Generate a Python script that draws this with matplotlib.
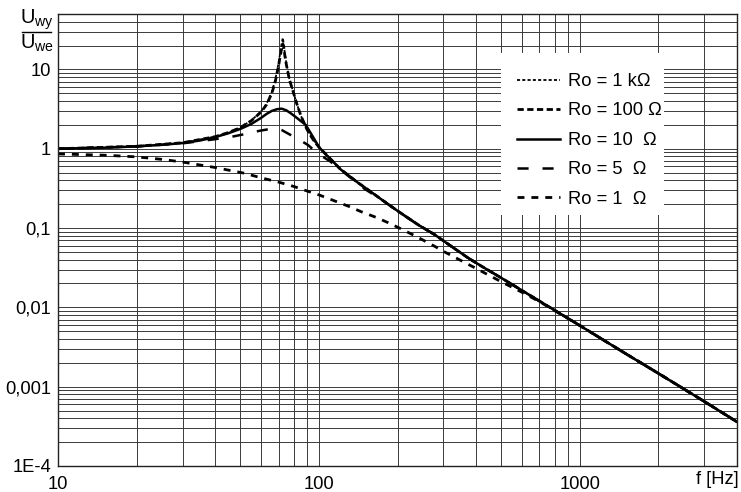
import matplotlib
matplotlib.use("Agg")
import matplotlib.pyplot as plt
from matplotlib.lines import Line2D
from matplotlib.patches import Rectangle
from matplotlib.ticker import FixedLocator, FixedFormatter, LogLocator, NullFormatter

plt.rcParams['font.family'] = ['Liberation Sans', 'DejaVu Sans']
plt.rcParams['mathtext.fontset'] = 'custom'
plt.rcParams['mathtext.rm'] = 'Liberation Sans'
plt.rcParams['mathtext.it'] = 'Liberation Sans'
plt.rcParams['lines.scale_dashes'] = False

# ---- data ----
f_1k = [10, 20, 30, 40, 45, 50, 55, 60, 63, 66, 68, 70, 71, 72, 72.7, 73.3, 74, 75, 77, 79.3, 82, 85.3, 90, 95, 100,
        110, 121, 130, 140, 154, 175, 201, 240, 277, 320, 373, 420, 500, 700, 1000, 1500, 2000, 3000, 4000]
v_1k = [1.0, 1.075, 1.19, 1.42, 1.6, 1.86, 2.27, 2.95, 3.7, 5.2, 7.4, 12, 16, 21.5, 25, 21, 16, 12, 7.6, 5.5, 3.8, 2.6, 1.75, 1.3, 1.05,
        0.76, 0.55, 0.46, 0.38, 0.305, 0.225, 0.163, 0.11, 0.083, 0.0595, 0.042, 0.033, 0.0235, 0.012, 0.0059, 0.0026, 0.00147, 0.00065, 0.00036]

f_100 = [10, 20, 30, 40, 45, 50, 55, 60, 63, 66, 68, 70, 71, 72, 72.7, 73.3, 74, 75, 77, 79.3, 82, 85.3, 90, 95, 100,
         110, 121, 130, 140, 154, 175, 201, 240, 277, 320, 373, 420, 500, 700, 1000, 1500, 2000, 3000, 4000]
v_100 = [1.0, 1.075, 1.19, 1.42, 1.6, 1.85, 2.25, 2.9, 3.6, 5.0, 7.0, 11, 14.5, 18.5, 21, 19, 15, 11.5, 7.5, 5.5, 3.8, 2.6, 1.75, 1.3, 1.05,
         0.76, 0.55, 0.46, 0.38, 0.305, 0.225, 0.163, 0.11, 0.083, 0.0595, 0.042, 0.033, 0.0235, 0.012, 0.0059, 0.0026, 0.00147, 0.00065, 0.00036]

f_10 = [10, 15, 20, 25, 30, 35, 40, 45, 50, 55, 60, 63, 66, 69, 72, 75, 78, 81, 85, 89, 95, 100, 105, 110, 121, 130,
        140, 154, 175, 201, 240, 277, 320, 373, 420, 500, 700, 1000, 1500, 2000, 3000, 4000]
v_10 = [1.0, 1.03, 1.07, 1.12, 1.18, 1.27, 1.40, 1.57, 1.78, 2.05, 2.45, 2.75, 3.0, 3.15, 3.2, 3.05, 2.8, 2.55, 2.25, 2.0, 1.4, 1.05, 0.88, 0.76, 0.55, 0.46,
        0.38, 0.305, 0.225, 0.163, 0.11, 0.083, 0.0595, 0.042, 0.033, 0.0235, 0.012, 0.0059, 0.0026, 0.00147, 0.00065, 0.00036]

f_5 = [10, 20, 30, 40, 46, 52, 59, 64, 68, 72, 76, 80, 85, 90.6, 95, 100, 110, 120, 130, 150, 175, 201, 240, 277, 320,
       373, 420, 500, 700, 1000, 1500, 2000, 3000, 4000]
v_5 = [1.0, 1.07, 1.17, 1.32, 1.41, 1.53, 1.68, 1.76, 1.8, 1.72, 1.56, 1.42, 1.27, 1.12, 0.98, 0.85, 0.7, 0.56, 0.45, 0.31, 0.225, 0.162, 0.11, 0.083, 0.0595,
       0.042, 0.033, 0.0235, 0.012, 0.0059, 0.0026, 0.00147, 0.00065, 0.00036]

f_1 = [10, 15, 20, 25, 30, 40, 52, 60, 70, 80, 91, 100, 114, 130, 145, 165, 184, 210, 233, 270, 303, 350, 400, 500,
       600, 700, 1000, 1500, 2000, 3000, 4000]
v_1 = [0.86, 0.83, 0.79, 0.735, 0.68, 0.58, 0.49, 0.43, 0.38, 0.335, 0.29, 0.262, 0.222, 0.188, 0.161, 0.137, 0.117, 0.095, 0.08, 0.062, 0.05, 0.039, 0.031, 0.021,
       0.0155, 0.0118, 0.0059, 0.0026, 0.00147, 0.00065, 0.00036]

labels = ["Ro = 1 k\u03a9", "Ro = 100 \u03a9", "Ro = 10  \u03a9", "Ro = 5  \u03a9", "Ro = 1  \u03a9"]
x_ticks = [10, 100, 1000]
x_ticklabels = ["10", "100", "1000"]
y_ticks = [1e-4, 1e-3, 1e-2, 1e-1, 1, 10]
y_ticklabels = ["1E-4", "0,001", "0,01", "0,1", "1", "10"]

FS = 13.2
W, H = 741, 492
fig = plt.figure(figsize=(W / 100, H / 100), dpi=100)
L, R, T, B = 58, 737, 14, 466
ax = fig.add_axes([L / W, 1 - B / H, (R - L) / W, (B - T) / H])
ax.set_xscale('log')
ax.set_yscale('log')
ax.set_xlim(10, 4000)
ax.set_ylim(1e-4, 50)

ax.plot(f_1k, v_1k, color='black', lw=1.3, linestyle=(0, (2.2, 1.6)), label=labels[0])
ax.plot(f_100, v_100, color='black', lw=2.0, linestyle=(0, (4.5, 2.5)), label=labels[1])
ax.plot(f_10, v_10, color='black', lw=1.8, linestyle='-', label=labels[2])
ax.plot(f_5, v_5, color='black', lw=1.8, linestyle=(0, (8, 10)), label=labels[3])
ax.plot(f_1, v_1, color='black', lw=2.0, linestyle=(0, (5, 5)), label=labels[4])

ax.xaxis.set_major_locator(FixedLocator(x_ticks))
ax.xaxis.set_major_formatter(FixedFormatter(x_ticklabels))
ax.xaxis.set_minor_locator(LogLocator(base=10, subs=range(2, 10)))
ax.xaxis.set_minor_formatter(NullFormatter())
ax.yaxis.set_major_locator(FixedLocator(y_ticks))
ax.yaxis.set_major_formatter(FixedFormatter(y_ticklabels))
ax.yaxis.set_minor_locator(LogLocator(base=10, subs=range(2, 10)))
ax.yaxis.set_minor_formatter(NullFormatter())
ax.tick_params(which='both', length=0, labelsize=FS, colors='black')
ax.tick_params(axis='x', pad=7)
ax.tick_params(axis='y', pad=5)
ax.grid(True, which='both', color='#3a3a3a', lw=0.7)
ax.set_axisbelow(True)
for s in ax.spines.values():
    s.set_linewidth(1.0)
    s.set_color('#222222')

# white legend area (covers the grid)
def px_to_axes(x, y):
    return (x - L) / (R - L), (B - y) / (B - T)

x0, y0 = px_to_axes(501, 215)
x1, y1 = px_to_axes(664, 53)
ax.add_patch(Rectangle((x0, y0), x1 - x0, y1 - y0, transform=ax.transAxes,
                       facecolor='white', edgecolor='none', zorder=1.5))

leg = ax.legend(loc='upper left', bbox_to_anchor=px_to_axes(517, 73),
                frameon=False, fontsize=FS, handlelength=2.35, handletextpad=0.44,
                labelspacing=0.68, borderpad=0, borderaxespad=0)

# y label as fraction
fig.text(37 / W, 1 - 20 / H, r'$\mathregular{U_{wy}}$', ha='center', va='center', fontsize=14.5)
fig.text(37 / W, 1 - 43 / H, r'$\mathregular{U_{we}}$', ha='center', va='center', fontsize=14.5)
fig.add_artist(Line2D([22 / W, 51 / W], [1 - 32 / H, 1 - 32 / H], color='black', lw=1.0))
fig.text(717 / W, 1 - 480 / H, 'f [Hz]', ha='center', va='center', fontsize=FS)

fig.savefig('out.png', dpi=100, facecolor='white')
